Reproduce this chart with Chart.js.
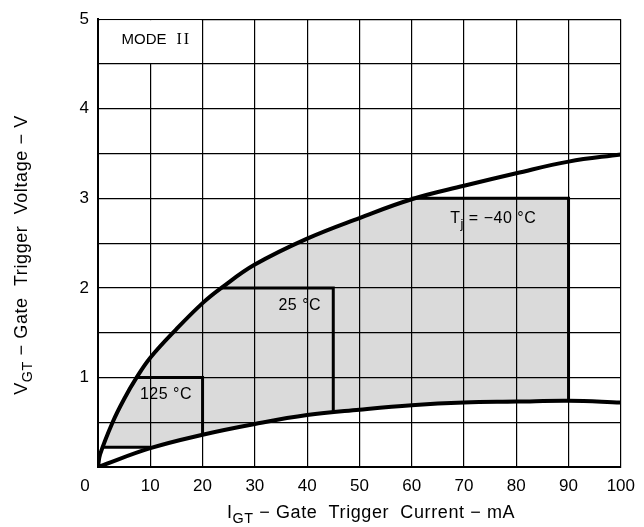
<!DOCTYPE html>
<html lang="en">
<head>
    <meta charset="UTF-8">
    <title>Gate Trigger Characteristics</title>
    <script src="https://cdn.jsdelivr.net/npm/chart.js"></script>
    <style>
        body { margin: 0; background: #fff; }
    </style>
</head>
<body>
    <canvas id="myChart" width="644" height="527"></canvas>
    <script>
            // curve limits (x = IGT mA, y = VGT V)
            const upperX = [0, 0.4, 2.8, 5, 7.4, 10, 15, 20, 23.6, 30, 40, 50, 60, 70, 80, 90, 100];
            const upperY = [0, 0.14, 0.5, 0.76, 1.0, 1.22, 1.54, 1.83, 2.0, 2.26, 2.55, 2.78, 2.99, 3.14, 3.28, 3.41, 3.49];
            const lowerX = [0, 10, 20, 30, 40, 50, 60, 70, 80, 90, 100];
            const lowerY = [0, 0.21, 0.36, 0.48, 0.58, 0.64, 0.69, 0.72, 0.73, 0.74, 0.72];

            // temperature boxes
            const box125X = [7.4, 20, 20];
            const box125Y = [1.0, 1.0, 0.36];
            const base125X = [1.0, 10];
            const base125Y = [0.22, 0.22];
            const box25X = [23.6, 45, 45];
            const box25Y = [2.0, 2.0, 0.61];
            const box40X = [60, 90, 90];
            const box40Y = [3.0, 3.0, 0.74];

            const xTicks = [10, 20, 30, 40, 50, 60, 70, 80, 90, 100];
            const yTicks = [1, 2, 3, 4, 5];

            const tempLabels = [
                { pre: '125 °C', sub: '', post: '', x: 13, y: 0.81 },
                { pre: '25 °C', sub: '', post: '', x: 38.6, y: 1.8 },
                { pre: 'T', sub: 'j', post: ' = −40 °C', x: 75.6, y: 2.77 }
            ];

            function pts(xs, ys) {
                return xs.map((x, i) => ({ x: x, y: ys[i] }));
            }

            // outline of the shaded area
            const shade = [];
            shade.push(...pts(base125X, base125Y));
            pts(lowerX, lowerY).filter(p => p.x > 10 && p.x < 90).forEach(p => shade.push(p));
            shade.push(...pts(box40X, box40Y).reverse());
            pts(upperX, upperY).filter(p => p.x > 1 && p.x < 60).reverse().forEach(p => shade.push(p));

            const FONT = "'Liberation Sans', Arial, sans-serif";

            function drawSubText(ctx, parts, cx, cy, size, spacing) {
                // parts: [text, isSub]
                ctx.letterSpacing = (spacing || 0) + 'px';
                let w = 0;
                parts.forEach(p => {
                    ctx.font = (p[1] ? size * 0.8 : size) + 'px ' + FONT;
                    w += ctx.measureText(p[0]).width;
                });
                let x = cx - w / 2;
                parts.forEach(p => {
                    ctx.font = (p[1] ? size * 0.8 : size) + 'px ' + FONT;
                    ctx.fillText(p[0], x, cy + (p[1] ? size * 0.35 : 0));
                    x += ctx.measureText(p[0]).width;
                });
                ctx.letterSpacing = '0px';
            }

            const extras = {
                id: 'extras',
                beforeDatasetsDraw(chart) {
                    // shaded trigger area, under the curves
                    const ctx = chart.ctx;
                    const xs = chart.scales.x, ys = chart.scales.y;
                    ctx.save();
                    ctx.beginPath();
                    shade.forEach((p, i) => {
                        const px = xs.getPixelForValue(p.x), py = ys.getPixelForValue(p.y);
                        if (i === 0) ctx.moveTo(px, py); else ctx.lineTo(px, py);
                    });
                    ctx.closePath();
                    ctx.fillStyle = '#dadada';
                    ctx.fill();
                    ctx.restore();
                },
                afterDraw(chart) {
                    const ctx = chart.ctx;
                    const xs = chart.scales.x, ys = chart.scales.y;
                    const area = chart.chartArea;
                    ctx.save();

                    // mode box has no inner grid
                    ctx.fillStyle = '#fff';
                    const l = xs.getPixelForValue(0) + 1.5;
                    const r = xs.getPixelForValue(20) - 1;
                    const t = ys.getPixelForValue(5) + 1;
                    const b = ys.getPixelForValue(4.5) - 1;
                    ctx.fillRect(l, t, r - l, b - t);
                    ctx.fillStyle = '#000';
                    ctx.textBaseline = 'middle';
                    ctx.textAlign = 'left';
                    ctx.font = '15px ' + FONT;
                    const mx = xs.getPixelForValue(4.5), my = ys.getPixelForValue(4.77);
                    ctx.fillText('MODE', mx, my);
                    const mw = ctx.measureText('MODE').width;
                    ctx.font = "16px 'Liberation Serif', serif";
                    ctx.letterSpacing = '2px';
                    ctx.fillText('II', mx + mw + 10, my);
                    ctx.letterSpacing = '0px';

                    tempLabels.forEach(lb => {
                        const parts = [[lb.pre, false]];
                        if (lb.sub) parts.push([lb.sub, true], [lb.post, false]);
                        drawSubText(ctx, parts, xs.getPixelForValue(lb.x), ys.getPixelForValue(lb.y), 16, 0.5);
                    });
                    // shared origin label
                    ctx.font = '17px ' + FONT;
                    ctx.textAlign = 'center';
                    ctx.fillText('0', area.left - 13, area.bottom + 19);
                    ctx.textAlign = 'left';
                    // x axis title
                    drawSubText(ctx, [['I', false], ['GT', true], [' − Gate  Trigger  Current − mA', false]],
                        371, 513, 18, 0.6);
                    // y axis title
                    ctx.translate(22, 255);
                    ctx.rotate(-Math.PI / 2);
                    drawSubText(ctx, [['V', false], ['GT', true], [' − Gate  Trigger  Voltage − V', false]],
                        0, 0, 18, 0.6);
                    ctx.restore();
                }
            };

            const curveStyle = {
                borderColor: '#000',
                borderWidth: 4,
                pointRadius: 0,
                showLine: true,
                fill: false,
                tension: 0.4
            };
            const boxStyle = {
                borderColor: '#000',
                borderWidth: 3,
                pointRadius: 0,
                showLine: true,
                fill: false,
                tension: 0
            };

            const ctx = document.getElementById('myChart').getContext('2d');
            const myChart = new Chart(ctx, {
                type: 'scatter',
                data: {
                    datasets: [
                        { label: 'upper', data: pts(upperX, upperY), ...curveStyle },
                        { label: 'lower', data: pts(lowerX, lowerY), ...curveStyle },
                        { label: '125', data: pts(box125X, box125Y), ...boxStyle },
                        { label: '125 base', data: pts(base125X, base125Y), ...boxStyle },
                        { label: '25', data: pts(box25X, box25Y), ...boxStyle },
                        { label: '-40', data: pts(box40X, box40Y), ...boxStyle }
                    ]
                },
                options: {
                    responsive: false,
                    animation: false,
                    layout: { padding: { top: 9, right: 17, left: 0, bottom: 0 } },
                    scales: {
                        x: {
                            type: 'linear',
                            min: 0,
                            max: 100,
                            afterFit: s => { s.height = 60; },
                            border: { color: '#000', width: 2, z: 2 },
                            grid: { color: '#000', lineWidth: 1.2, drawTicks: false, z: 1 },
                            ticks: {
                                stepSize: 10,
                                padding: 9,
                                color: '#000',
                                font: { family: FONT, size: 17 },
                                maxRotation: 0,
                                callback: v => xTicks.includes(v) ? String(v) : ''
                            }
                        },
                        y: {
                            min: 0,
                            max: 5,
                            afterFit: s => { s.width = 98; },
                            border: { color: '#000', width: 2, z: 2 },
                            grid: { color: '#000', lineWidth: 1.2, drawTicks: false, z: 1 },
                            ticks: {
                                stepSize: 0.5,
                                padding: 9,
                                color: '#000',
                                font: { family: FONT, size: 17 },
                                callback: v => yTicks.includes(v) ? String(v) : ''
                            }
                        }
                    },
                    plugins: {
                        legend: { display: false },
                        tooltip: { enabled: false }
                    }
                },
                plugins: [extras]
            });
    </script>
</body>
</html>
